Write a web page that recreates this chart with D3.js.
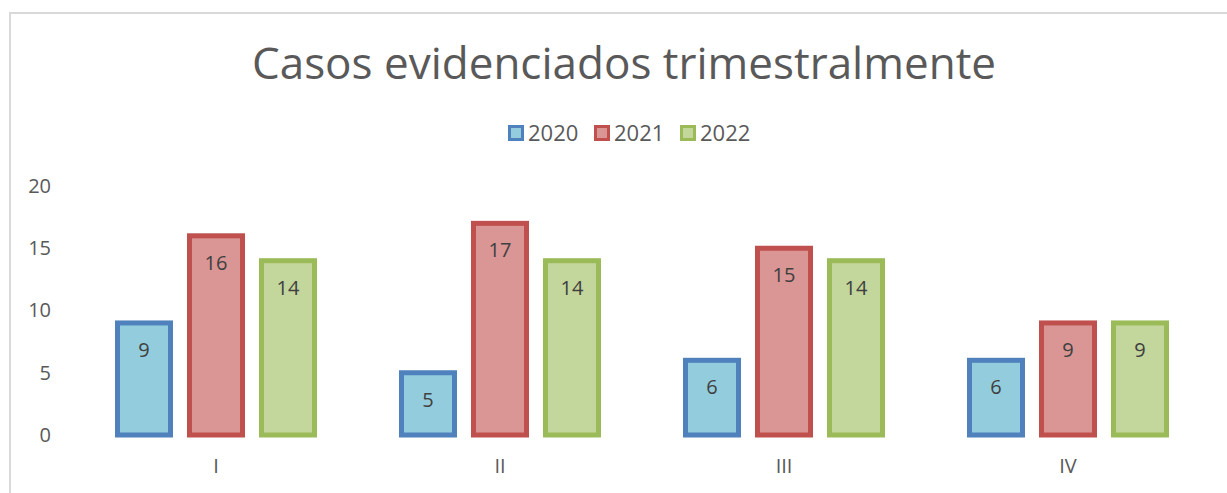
<!DOCTYPE html>
<html>
<head>
    <meta charset="utf-8">
    <script src="https://cdn.jsdelivr.net/npm/d3@7/dist/d3.min.js"></script>
    <title>Casos evidenciados trimestralmente</title>
    <style>
        body { margin: 0; background: #fff; }
        text { font-family: "Open Sans", sans-serif; }
    </style>
</head>
<body>
    <svg id="chart"></svg>
    <script>
        // datos
        var quarters = ['I', 'II', 'III', 'IV']
        var years = ['2020', '2021', '2022']
        var v2020 = [9, 5, 6, 6]
        var v2021 = [16, 17, 15, 9]
        var v2022 = [14, 14, 14, 9]
        var yTicks = [0, 5, 10, 15, 20]

        var series = [v2020, v2021, v2022]
        var strokeCol = ['#4f81bd', '#c0504d', '#9bbb59']
        var fillCol = ['#93cddd', '#d99694', '#c3d69b']

        var W = 1227, H = 493
        var svg = d3.select('#chart').attr('width', W).attr('height', H)

        // borde del grafico
        svg.append('path')
            .attr('d', 'M10,' + H + 'V13H' + W)
            .attr('fill', 'none')
            .attr('stroke', '#d9d9d9')
            .attr('stroke-width', 2)

        svg.append('text')
            .attr('x', 624).attr('y', 79)
            .attr('text-anchor', 'middle')
            .attr('font-size', 44)
            .attr('fill', '#595959')
            .text('Casos evidenciados trimestralmente')

        var x0 = d3.scaleBand().domain(quarters).range([74, 1210])
        var x1 = d3.scalePoint().domain(years).range([70, 214])
        var y = d3.scaleLinear().domain([0, 20]).range([435, 186])
        var bw = 53

        // eje y
        var gy = svg.append('g').attr('transform', 'translate(60,0)')
            .call(d3.axisLeft(y).tickValues(yTicks).tickSize(0).tickPadding(9))
        gy.select('.domain').remove()
        gy.selectAll('text').attr('font-size', 20).attr('fill', '#595959')
            .style('font-family', '"Open Sans", sans-serif')

        // eje x
        var gx = svg.append('g').attr('transform', 'translate(0,449)')
            .call(d3.axisBottom(x0).tickSize(0).tickPadding(10))
        gx.select('.domain').remove()
        gx.selectAll('text').attr('font-size', 20).attr('fill', '#595959')
            .style('font-family', '"Open Sans", sans-serif')

        var groups = svg.selectAll('g.grp').data(quarters).enter().append('g')
            .attr('class', 'grp')
            .attr('transform', function (d) { return 'translate(' + x0(d) + ',0)' })

        groups.each(function (q, qi) {
            var g = d3.select(this)
            years.forEach(function (yr, si) {
                var val = series[si][qi]
                var cx = x1(yr)
                g.append('rect')
                    .attr('x', cx - bw / 2)
                    .attr('y', y(val))
                    .attr('width', bw)
                    .attr('height', y(0) - y(val))
                    .attr('fill', fillCol[si])
                    .attr('stroke', strokeCol[si])
                    .attr('stroke-width', 5)
                g.append('text')
                    .attr('x', cx)
                    .attr('y', y(val) + 34)
                    .attr('text-anchor', 'middle')
                    .attr('font-size', 20)
                    .attr('fill', '#404040')
                    .text(val)
            })
        })

        // leyenda
        var legX = [508, 594, 680]
        var leg = svg.selectAll('g.leg').data(years).enter().append('g')
            .attr('class', 'leg')
            .attr('transform', function (d, i) { return 'translate(' + legX[i] + ',125)' })
        leg.append('rect')
            .attr('x', 1.5).attr('y', 1.5).attr('width', 13).attr('height', 13)
            .attr('fill', function (d, i) { return fillCol[i] })
            .attr('stroke', function (d, i) { return strokeCol[i] })
            .attr('stroke-width', 3)
        leg.append('text')
            .attr('x', 20).attr('y', 16)
            .attr('font-size', 22)
            .attr('fill', '#595959')
            .text(function (d) { return d })
    </script>
</body>
</html>
